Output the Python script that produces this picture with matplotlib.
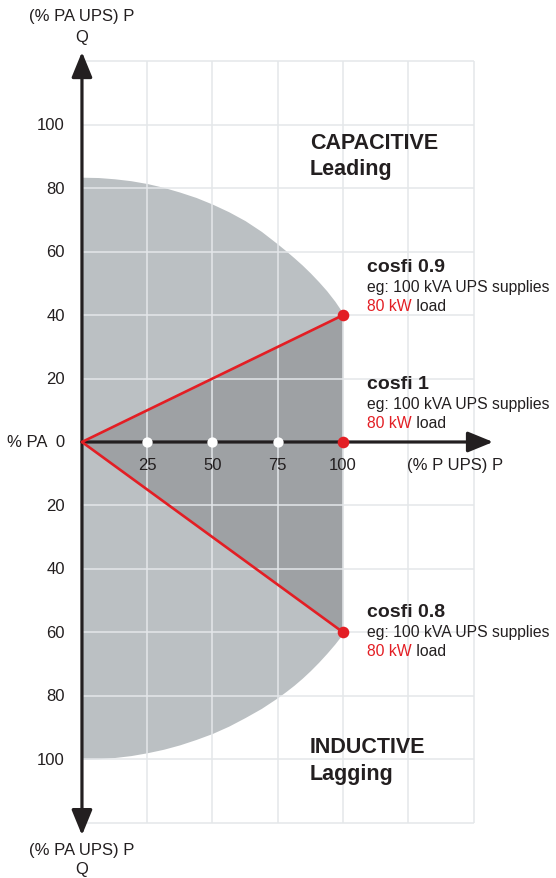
import matplotlib.pyplot as plt

# capability curve (% P, % Q)
P_CURVE = [0, 6.25, 12.5, 18.75, 25, 31.25, 37.5, 43.75, 50, 56.25, 62.5, 68.75,
           75, 78.125, 81.25, 84.375, 87.5, 90.625, 93.75, 96.875, 100]
Q_UPPER = [83.5, 83.4, 83.0, 82.4, 81.5, 80.3, 78.8, 77.1, 75.0, 72.6, 69.8, 66.4,
           62.4, 60.3, 58.1, 55.8, 53.3, 50.6, 47.7, 44.4, 40.6]
Q_LOWER = [-100, -99.9, -99.5, -98.9, -98.0, -96.9, -95.5, -93.8, -91.9, -89.6, -86.9, -84.0,
           -80.6, -78.7, -76.7, -74.5, -72.1, -69.5, -66.7, -63.7, -60.4]

P_TICKS = [25, 50, 75, 100]
Q_TICKS = [100, 80, 60, 40, 20, 0, -20, -40, -60, -80, -100]
Q_LABELS = ["100", "80", "60", "40", "20", "% PA  0", "20", "40", "60", "80", "100"]

P_GRID = [0, 25, 50, 75, 100, 125, 150]
Q_GRID = [-120, -100, -80, -60, -40, -20, 20, 40, 60, 80, 100, 120]

COSFI = ["cosfi 0.9", "cosfi 1", "cosfi 0.8"]
P_LOAD = [100, 100, 100]
Q_LOAD = [40, 0, -60]

BLACK = "#231f20"
RED = "#e31e24"
LIGHT = "#bbc0c3"
DARK = "#9ea1a4"
GRID = "#e4e7ea"

plt.rcParams['font.family'] = ['Liberation Sans', 'DejaVu Sans']

fig = plt.figure(figsize = (5.56, 8.79), dpi = 100)
ax = fig.add_axes([0, 0, 1, 1])
ax.set_xlim(-31.4, 181.6)
ax.set_ylim(-137.5, 139.7)
ax.axis('off')

# shaded areas
ax.fill_between(P_CURVE, Q_LOWER, Q_UPPER, color = LIGHT, lw = 0, zorder = 1)
ax.fill([0, P_LOAD[0], P_LOAD[2]], [0, Q_LOAD[0], Q_LOAD[2]], color = DARK, lw = 0, zorder = 2)

# grid on top of the fills
ax.vlines(P_GRID[1:], Q_GRID[0], Q_GRID[-1], color = GRID, lw = 1.1, zorder = 3)
ax.hlines(Q_GRID, 0, P_GRID[-1], color = GRID, lw = 1.1, zorder = 3)

# axes with arrows
arrow = dict(arrowstyle = '-|>,head_length=1.1,head_width=0.45', color = BLACK, lw = 2.3,
             shrinkA = 0, shrinkB = 0, mutation_scale = 14)
ax.annotate('', xy = (0, 123), xytext = (0, 0), arrowprops = arrow, zorder = 4)
ax.annotate('', xy = (0, -124), xytext = (0, 0), arrowprops = arrow, zorder = 4)
ax.annotate('', xy = (157.5, 0), xytext = (0, 0), arrowprops = arrow, zorder = 4)

# red load lines
for p, q in zip(P_LOAD, Q_LOAD):
  if q != 0:
    ax.plot([0, p], [0, q], color = RED, lw = 1.9, zorder = 5, solid_capstyle = 'round')
ax.scatter(P_TICKS[:-1], [0] * 3, s = 55, color = 'white', zorder = 6, lw = 0)
ax.scatter(P_LOAD, Q_LOAD, s = 70, color = RED, zorder = 6, lw = 0)

# tick labels
FS = 12
for q, lab in zip(Q_TICKS, Q_LABELS):
  ax.text(-6.5, q, lab, ha = 'right', va = 'center', fontsize = FS, color = BLACK)
for p in P_TICKS:
  ax.text(p, -7.2, str(p), ha = 'center', va = 'center', fontsize = FS, color = BLACK)
ax.text(142.9, -7.2, "(% P UPS) P", ha = 'center', va = 'center', fontsize = FS, color = BLACK)

ax.text(0, 134.4, "(% PA UPS) P", ha = 'center', va = 'center', fontsize = FS, color = BLACK)
ax.text(0, 128.0, "Q", ha = 'center', va = 'center', fontsize = FS, color = BLACK)
ax.text(0, -128.4, "(% PA UPS) P", ha = 'center', va = 'center', fontsize = FS, color = BLACK)
ax.text(0, -134.6, "Q", ha = 'center', va = 'center', fontsize = FS, color = BLACK)

# region titles
for y, s in [(94.6, "CAPACITIVE"), (86.1, "Leading"), (-95.9, "INDUCTIVE"), (-104.7, "Lagging")]:
  ax.text(87.4, y, s, ha = 'left', va = 'center', fontsize = 15.5, weight = 'bold', color = BLACK)

# cosfi annotations
BASELINES = [53.9, 17.0, -54.9]
for name, base in zip(COSFI, BASELINES):
  ax.text(109.2, base, name, ha = 'left', va = 'baseline', fontsize = 14, weight = 'bold', color = BLACK)
  ax.text(109.2, base - 5.0, "eg: 100 kVA UPS supplies", ha = 'left', va = 'center', fontsize = 11.3, color = BLACK)
  t = ax.text(109.2, base - 11.0, "80 kW", ha = 'left', va = 'center', fontsize = 11.3, color = RED)
  ax.annotate(" load", xycoords = t, xy = (1, 0), va = 'bottom', ha = 'left', fontsize = 11.3, color = BLACK)

fig.savefig("out.png", dpi = 100)
